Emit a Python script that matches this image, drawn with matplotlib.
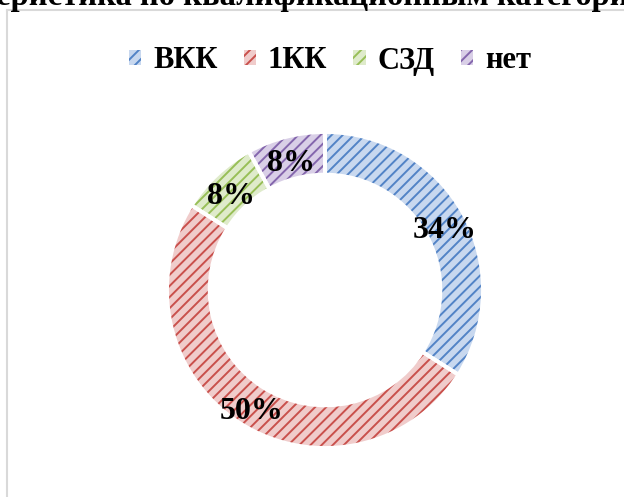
import numpy as np
import matplotlib
matplotlib.use("Agg")
import matplotlib.pyplot as plt
from matplotlib.lines import Line2D
from matplotlib.patches import Patch

categories = ["ВКК", "1КК", "СЗД", "нет"]
values = [34, 50, 8, 8]
labels = ["34%", "50%", "8%", "8%"]
face_colors = ["#c8d8ef", "#f0cccb", "#dfebcb", "#d9cfe7"]
line_colors = ["#5283c6", "#c9504c", "#98bf57", "#8466ad"]
title = "Характеристика по квалификационным категориям"

plt.rcParams["font.family"] = ["Liberation Serif", "DejaVu Serif"]
plt.rcParams["hatch.linewidth"] = 1.4

fig = plt.figure(figsize=(6.24, 4.97), dpi=100)

# light frame of the chart area
fig.add_artist(Line2D([7 / 624, 7 / 624], [0, 1 - 10 / 497], color="#d9d9d9", lw=1.5))
fig.add_artist(Line2D([7 / 624, 1], [1 - 10 / 497, 1 - 10 / 497], color="#d9d9d9", lw=1.5))

# title, cut off at the top and sides like in the original
renderer = fig.canvas.get_renderer()
probe = fig.text(0, 0, "Характ", fontsize=23.5, fontweight="bold")
cut = probe.get_window_extent(renderer).width
probe.remove()
fig.text(-(cut + 4) / 624, 1 - 5 / 497, title, ha="left", va="baseline",
         fontsize=23.5, fontweight="bold")

ax = fig.add_axes([167 / 624, 49 / 497, 316 / 624, 316 / 497])
ring = 0.27

wedges, _ = ax.pie(values, startangle=90, counterclock=False, radius=1,
                   colors=face_colors,
                   wedgeprops=dict(width=ring, linewidth=0))
for w, lc in zip(wedges, line_colors):
    w.set_hatch("///")
    w.set_edgecolor(lc)
    w.set_linewidth(0)

outline, _ = ax.pie(values, startangle=90, counterclock=False, radius=1,
                    wedgeprops=dict(width=ring, fill=False, edgecolor="white",
                                    linewidth=2.8))

for w, lab in zip(wedges, labels):
    ang = np.deg2rad((w.theta1 + w.theta2) / 2)
    r = 1 - ring / 2
    ax.annotate(lab, (r * np.cos(ang), r * np.sin(ang)), xytext=(0, -6),
                textcoords="offset pixels", ha="center", va="center",
                fontsize=23, fontweight="bold")

ax.set_xlim(-1, 1)
ax.set_ylim(-1, 1)
ax.axis("off")

handles = [Patch(facecolor=fc, edgecolor=lc, hatch="///", linewidth=0)
           for fc, lc in zip(face_colors, line_colors)]
fig.legend(handles, categories, loc="center", bbox_to_anchor=(330 / 624, 1 - 61 / 497),
           ncol=4, frameon=False, prop=dict(size=22, weight="bold"),
           handlelength=0.4, handleheight=0.4, handletextpad=0.4,
           columnspacing=0.85)

fig.savefig("out.png", dpi=100)
